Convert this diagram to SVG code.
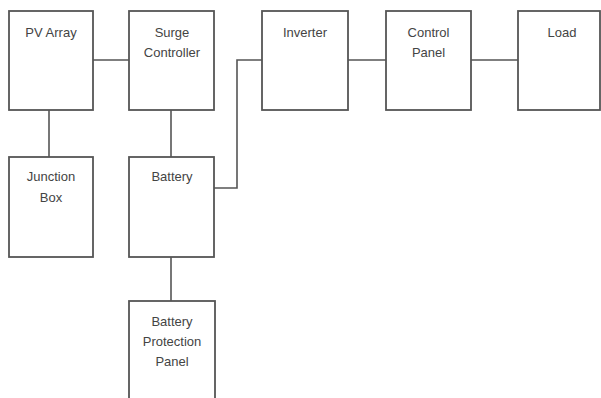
<svg xmlns="http://www.w3.org/2000/svg" width="601" height="398" viewBox="0 0 601 398">
<style>
.box{fill:#fff;stroke:#555;stroke-width:1.8}
.lbl{font-family:"Liberation Sans",Arial,sans-serif;font-size:13px;fill:#444;text-anchor:middle}
.wire{fill:none;stroke:#555;stroke-width:1.6}
</style>
<rect width="601" height="398" fill="#fff"/>
<g id="connectors">
<line class="wire" x1="93" y1="60" x2="129" y2="60"/>
<line class="wire" x1="49" y1="110" x2="49" y2="157"/>
<line class="wire" x1="171" y1="110" x2="171" y2="157"/>
<polyline class="wire" points="214,188 237,188 237,60 262,60"/>
<line class="wire" x1="171" y1="257" x2="171" y2="301"/>
<line class="wire" x1="348" y1="60" x2="386" y2="60"/>
<line class="wire" x1="471" y1="60" x2="518" y2="60"/>
</g>
<g id="pv-array">
<rect class="box" x="9" y="11" width="84" height="99"/>
<text class="lbl" x="51" y="37">PV Array</text>
</g>
<g id="surge-controller">
<rect class="box" x="129" y="11" width="85" height="99"/>
<text class="lbl" x="172" y="37">Surge</text>
<text class="lbl" x="172" y="57">Controller</text>
</g>
<g id="junction-box">
<rect class="box" x="9" y="157" width="84" height="100"/>
<text class="lbl" x="51" y="181">Junction</text>
<text class="lbl" x="51" y="202">Box</text>
</g>
<g id="battery">
<rect class="box" x="129" y="157" width="85" height="100"/>
<text class="lbl" x="172" y="181">Battery</text>
</g>
<g id="battery-protection-panel">
<rect class="box" x="129" y="301" width="86" height="102"/>
<text class="lbl" x="172" y="326">Battery</text>
<text class="lbl" x="172" y="346">Protection</text>
<text class="lbl" x="172" y="366">Panel</text>
</g>
<g id="inverter">
<rect class="box" x="262" y="11" width="86" height="99"/>
<text class="lbl" x="305" y="37">Inverter</text>
</g>
<g id="control-panel">
<rect class="box" x="386" y="11" width="85" height="99"/>
<text class="lbl" x="428.5" y="37">Control</text>
<text class="lbl" x="428.5" y="57">Panel</text>
</g>
<g id="load">
<rect class="box" x="518" y="11" width="82" height="99"/>
<text class="lbl" x="562" y="37">Load</text>
</g>
</svg>
